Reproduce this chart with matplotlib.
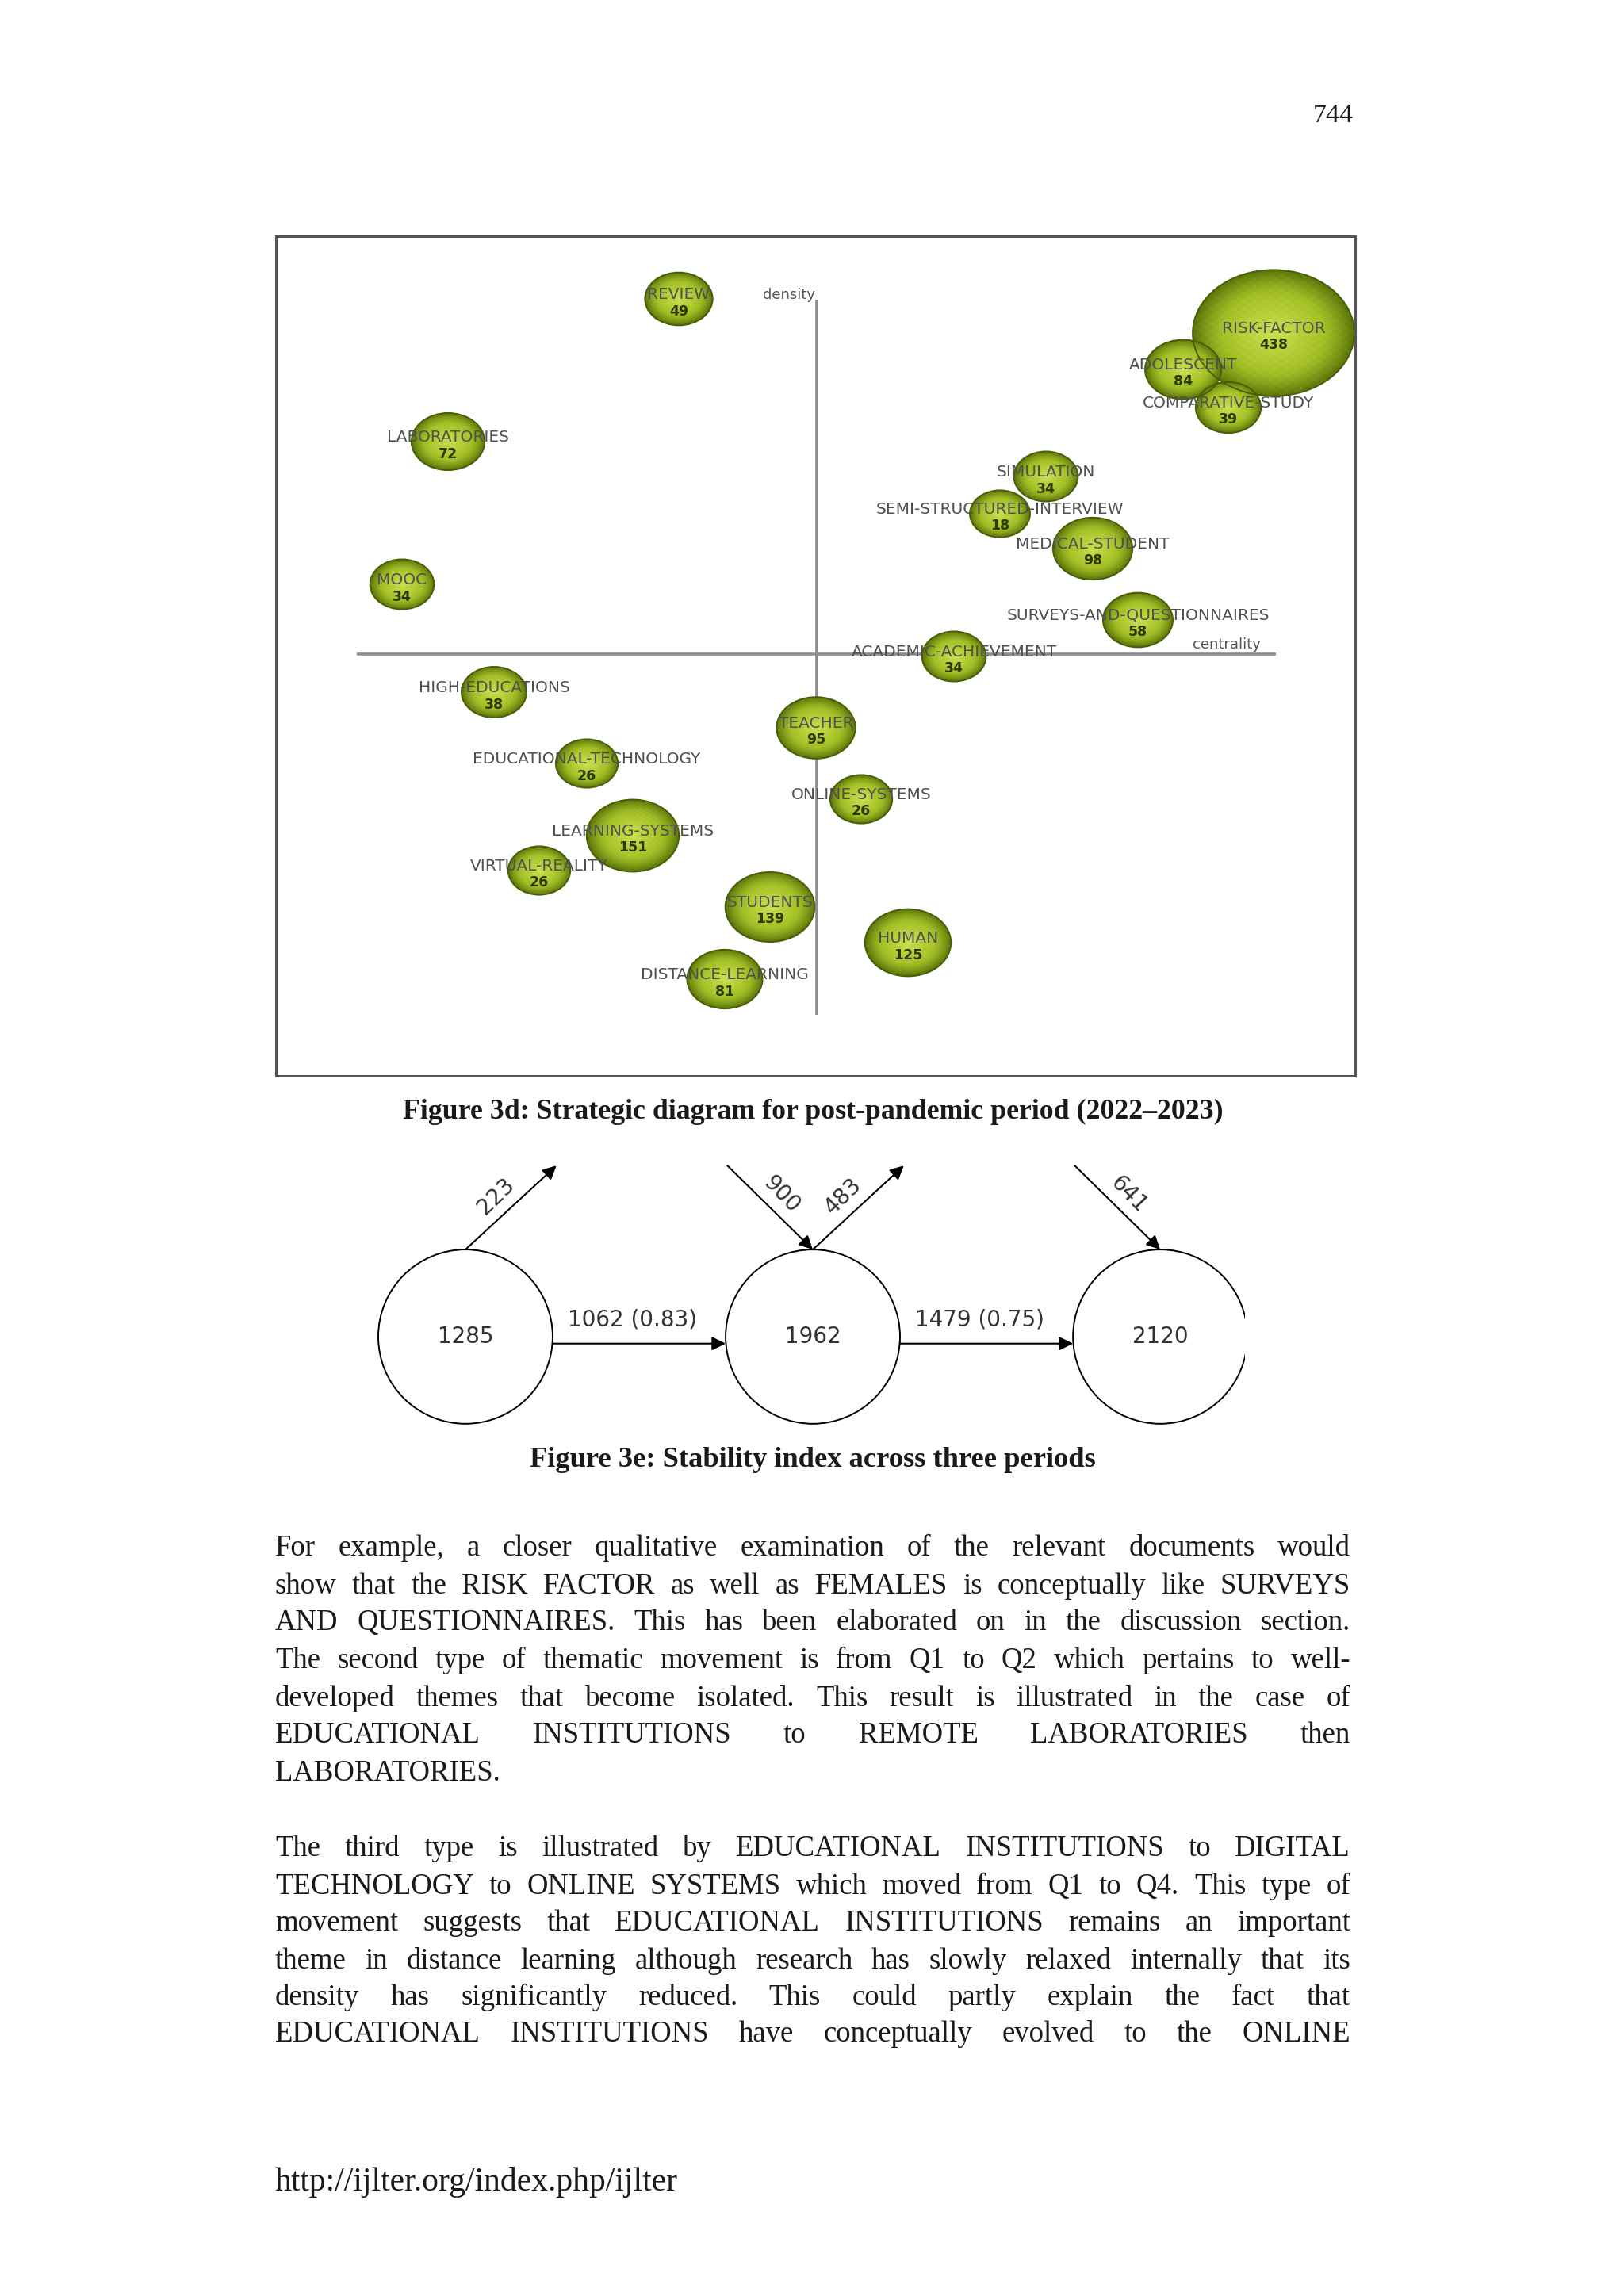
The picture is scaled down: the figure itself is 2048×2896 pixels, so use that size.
import numpy as np
import matplotlib
matplotlib.use("Agg")
import matplotlib.pyplot as plt
from matplotlib.patches import Ellipse, Circle
from matplotlib.colors import to_rgb

# ---------------- data: strategic diagram (Figure 3d) ----------------
themes = ["REVIEW", "RISK-FACTOR", "ADOLESCENT", "COMPARATIVE-STUDY", "LABORATORIES",
          "SIMULATION", "SEMI-STRUCTURED-INTERVIEW", "MEDICAL-STUDENT", "MOOC",
          "SURVEYS-AND-QUESTIONNAIRES", "ACADEMIC-ACHIEVEMENT", "HIGH-EDUCATIONS",
          "TEACHER", "EDUCATIONAL-TECHNOLOGY", "ONLINE-SYSTEMS", "LEARNING-SYSTEMS",
          "VIRTUAL-REALITY", "STUDENTS", "HUMAN", "DISTANCE-LEARNING"]
documents = [49, 438, 84, 39, 72, 34, 18, 98, 34, 58, 34, 38, 95, 26, 26, 151, 26, 139, 125, 81]
centrality = [-1.74, 5.76, 4.62, 5.19, -4.65, 2.89, 2.31, 3.48, -5.23, 4.05,
              1.73, -4.07, -0.01, -2.90, 0.56, -2.32, -3.50, -0.59, 1.15, -1.16]
density = [4.48, 4.05, 3.59, 3.11, 2.68, 2.24, 1.77, 1.33, 0.88, 0.43,
           -0.03, -0.48, -0.93, -1.38, -1.83, -2.29, -2.73, -3.19, -3.64, -4.10]

# ---------------- data: stability index (Figure 3e) ----------------
period_keywords = [1285, 1962, 2120]
shared_keywords = [1062, 1479]
stability_index = [0.83, 0.75]
disappearing = [223, 483, None]
emerging = [None, 900, 641]

# ---------------- page text ----------------
caption_3d = "Figure 3d: Strategic diagram for post-pandemic period (2022\u20132023)"
caption_3e = "Figure 3e: Stability index across three periods"
page_number = "744"
footer = "http://ijlter.org/index.php/ijlter"
para1 = [
    ("For example, a closer qualitative examination of the relevant documents would", True),
    ("show that the RISK FACTOR as well as FEMALES is conceptually like SURVEYS", True),
    ("AND QUESTIONNAIRES. This has been elaborated on in the discussion section.", True),
    ("The second type of thematic movement is from Q1 to Q2 which pertains to well-", True),
    ("developed themes that become isolated. This result is illustrated in the case of", True),
    ("EDUCATIONAL INSTITUTIONS to REMOTE LABORATORIES then", True),
    ("LABORATORIES.", False),
]
para2 = [
    ("The third type is illustrated by EDUCATIONAL INSTITUTIONS to DIGITAL", True),
    ("TECHNOLOGY to ONLINE SYSTEMS which moved from Q1 to Q4. This type of", True),
    ("movement suggests that EDUCATIONAL INSTITUTIONS remains an important", True),
    ("theme in distance learning although research has slowly relaxed internally that its", True),
    ("density has significantly reduced. This could partly explain the fact that", True),
    ("EDUCATIONAL INSTITUTIONS have conceptually evolved to the ONLINE", True),
]
para1_y = [1952, 2000, 2046, 2094, 2142, 2188, 2236]
para2_y = [2331, 2379, 2425, 2473, 2519, 2565]

W, H = 2048, 2896
fig = plt.figure(figsize=(W / 100, H / 100), dpi=100)
fig.patch.set_facecolor("white")
pg = fig.add_axes([0, 0, 1, 1])
pg.set_xlim(0, W)
pg.set_ylim(H, 0)
pg.axis("off")


def fax(l, t, r, b):
    return fig.add_axes([l / W, 1 - b / H, (r - l) / W, (b - t) / H])


# ================= Figure 3d =================
ax = fax(348, 298, 1709, 1357)
XL, YL = (-6.82, 6.79), (-5.32, 5.27)
ax.set_xticks([])
ax.set_yticks([])
for s in ax.spines.values():
    s.set_color("#555555")
    s.set_linewidth(2.2)
    s.set_zorder(10)

axis_col = "#8c8c8c"
ax.plot([-5.80, 5.79], [0, 0], color=axis_col, lw=2.6, zorder=1, solid_capstyle="butt")
ax.plot([0, 0], [-4.55, 4.47], color=axis_col, lw=2.6, zorder=1, solid_capstyle="butt")
ax.text(-0.02, 4.53, "density", ha="right", va="center", fontsize=13, color="#555555",
        family="DejaVu Sans", zorder=6)
ax.text(5.60, 0.03, "centrality", ha="right", va="bottom", fontsize=13, color="#555555",
        family="DejaVu Sans", zorder=6)

# radial gradient image for bubbles
n = 240
yy, xx = np.mgrid[-1:1:n * 1j, -1:1:n * 1j]
rr = np.clip(np.sqrt(xx ** 2 + yy ** 2), 0, 1)
c_center = np.array(to_rgb("#cde052"))
c_mid = np.array(to_rgb("#a6c228"))
c_edge = np.array(to_rgb("#5a7409"))
t1 = np.clip(rr / 0.6, 0, 1)[..., None]
t2 = np.clip((rr - 0.6) / 0.4, 0, 1)[..., None] ** 1.3
grad = np.where(rr[..., None] < 0.6,
                c_center * (1 - t1) + c_mid * t1,
                c_mid * (1 - t2) + c_edge * t2)
tex = (np.sin(xx * 47) * np.sin(yy * 53)) * 0.015
grad = np.clip(grad + tex[..., None], 0, 1)

for name, v, cx, cy in zip(themes, documents, centrality, density):
    hh = (27.5 + 0.119 * v) / 100.0
    hw = 1.28 * hh
    ell = Ellipse((cx, cy), 2 * hw, 2 * hh, facecolor="none", edgecolor="#4a5e08",
                  lw=1.4, zorder=3)
    ax.add_patch(ell)
    im = ax.imshow(grad, extent=(cx - hw, cx + hw, cy - hh, cy + hh), origin="lower",
                   aspect="auto", zorder=2, interpolation="bilinear")
    clip = Ellipse((cx, cy), 2 * hw, 2 * hh, transform=ax.transData)
    im.set_clip_path(clip)

for name, v, cx, cy in zip(themes, documents, centrality, density):
    ax.text(cx, cy + 0.055, name, ha="center", va="center", fontsize=14.5,
            color="#505050", family="DejaVu Sans", zorder=6)
    ax.text(cx, cy - 0.155, str(v), ha="center", va="center", fontsize=12.5,
            fontweight="bold", color="#2e3800", family="DejaVu Sans", zorder=6)

ax.set_xlim(*XL)
ax.set_ylim(*YL)

# ================= Figure 3e =================
ax3 = fax(470, 1468, 1570, 1805)
ax3.set_xlim(-0.267, 2.244)
ax3.set_ylim(-0.272, 0.498)
ax3.axis("off")
R = 0.251
lab_kw = dict(fontsize=20, color="#333333", family="DejaVu Sans")
for i, nk in enumerate(period_keywords):
    ax3.add_patch(Circle((i, 0), R, fill=False, ec="black", lw=1.4))
    ax3.text(i, 0.0, str(nk), ha="center", va="center", **lab_kw)
arrow_kw = dict(arrowstyle="-|>", color="black", lw=1.5, mutation_scale=26,
                shrinkA=0, shrinkB=0)
for i, (sk, si) in enumerate(zip(shared_keywords, stability_index)):
    ax3.annotate("", xy=(i + 1 - R, -0.02), xytext=(i + R, -0.02), arrowprops=arrow_kw)
    ax3.text(i + 0.48, 0.05, f"{sk} ({si:.2f})", ha="center", va="center", **lab_kw)
for i, d in enumerate(disappearing):
    if d is None:
        continue
    ax3.annotate("", xy=(i + 0.262, 0.493), xytext=(i, R), arrowprops=arrow_kw)
    ax3.text(i + 0.088, 0.405, str(d), ha="center", va="center", rotation=44,
             rotation_mode="anchor", **lab_kw)
for i, e in enumerate(emerging):
    if e is None:
        continue
    ax3.annotate("", xy=(i, R), xytext=(i - 0.246, 0.493), arrowprops=arrow_kw)
    ax3.text(i - 0.09, 0.41, str(e), ha="center", va="center", rotation=-46,
             rotation_mode="anchor", **lab_kw)

# ================= page text =================
renderer = fig.canvas.get_renderer()


def measure(s, **kw):
    t = pg.text(0, 0, s, **kw)
    w = t.get_window_extent(renderer).width
    t.remove()
    return w


def fit_fs(s, target, **kw):
    return 20.0 * target / measure(s, fontsize=20, **kw)


serif = dict(family="Liberation Serif", color="#1a1a1a")
serif_b = dict(family="Liberation Serif", color="#1a1a1a", fontweight="bold")

# page number
fs = fit_fs(page_number, 51, **serif)
pg.text(1707, 146, page_number, ha="right", va="center", fontsize=fs, **serif)

# captions
fs = fit_fs(caption_3d, 1034, **serif_b)
pg.text(1025, 1402, caption_3d, ha="center", va="center", fontsize=fs, **serif_b)
fs = fit_fs(caption_3e, 713, **serif_b)
pg.text(1025, 1841, caption_3e, ha="center", va="center", fontsize=fs, **serif_b)

# footer
fs = fit_fs(footer, 508, **serif)
pg.text(347, 2752, footer, ha="left", va="center", fontsize=fs, **serif)

# body
X0, X1 = 347, 1703
all_lines = para1 + para2
nat = max(measure(l, fontsize=20, **serif) for l, j in all_lines if j)
body_fs = min(26.5, 20.0 * (X1 - X0 - 6) / nat)


def draw_line(text, yc, justify):
    words = text.split(" ")
    widths = [measure(w, fontsize=body_fs, **serif) for w in words]
    if justify and len(words) > 1:
        gap = (X1 - X0 - sum(widths)) / (len(words) - 1)
    else:
        gap = measure("a a", fontsize=body_fs, **serif) - measure("aa", fontsize=body_fs, **serif)
    x = X0
    for w, wd in zip(words, widths):
        pg.text(x, yc + 10, w, ha="left", va="baseline", fontsize=body_fs, **serif)
        x += wd + gap


for (l, j), y in zip(para1, para1_y):
    draw_line(l, y, j)
for (l, j), y in zip(para2, para2_y):
    draw_line(l, y, j)

fig.savefig("out.png", dpi=100, facecolor="white")
